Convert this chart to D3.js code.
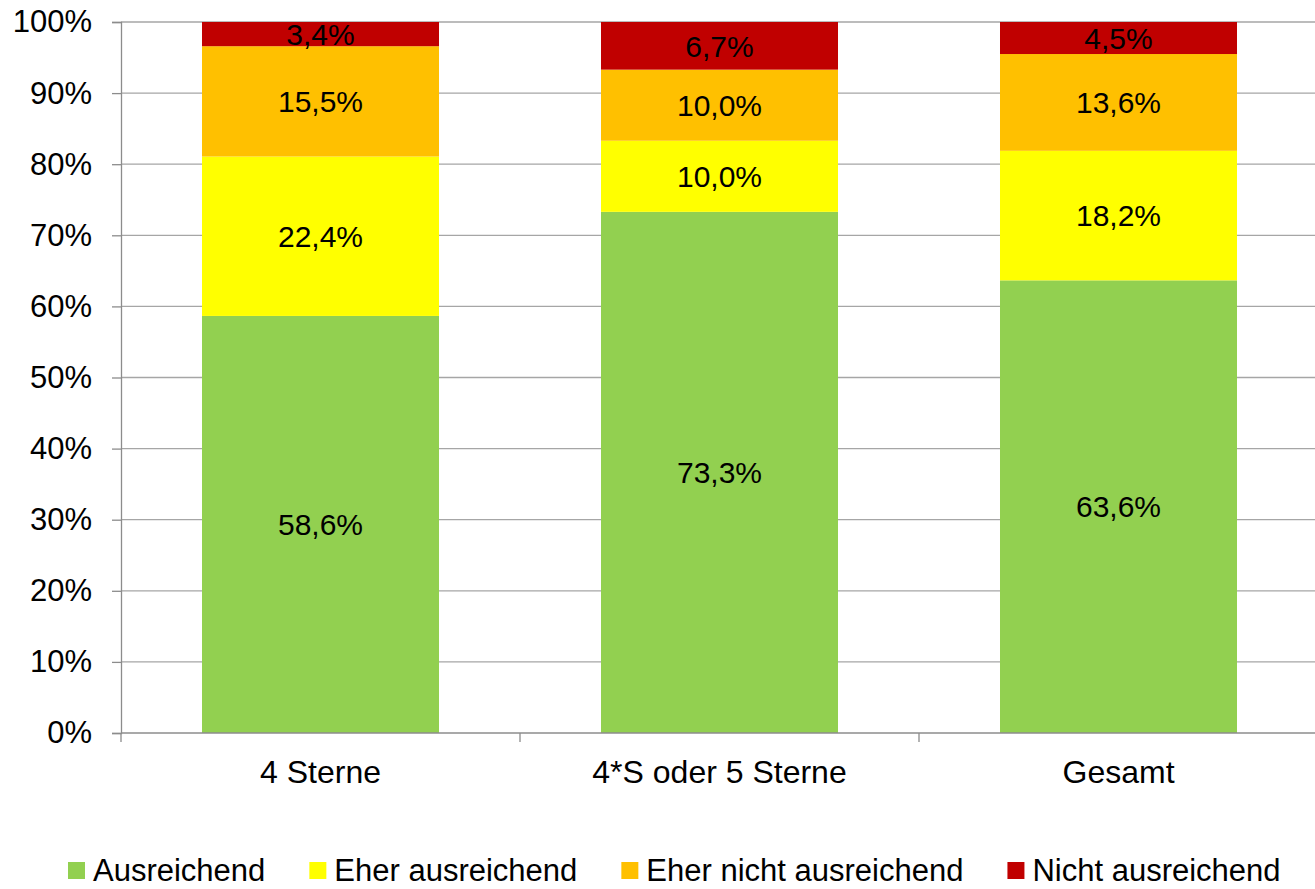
<!DOCTYPE html>
<html>
<head>
<meta charset="utf-8">
<script src="https://cdn.jsdelivr.net/npm/d3@7"></script>
<style>
  html, body { margin: 0; padding: 0; background: #fff; }
  svg { display: block; font-family: "Liberation Sans", Arial, sans-serif; }
</style>
</head>
<body>
<svg id="chart" width="1315" height="889"></svg>
<script>
const categories = ["4 Sterne", "4*S oder 5 Sterne", "Gesamt"];
const seriesNames = ["Ausreichend", "Eher ausreichend", "Eher nicht ausreichend", "Nicht ausreichend"];
const ausreichend = [58.6, 73.3, 63.6];
const eherAusreichend = [22.4, 10.0, 18.2];
const eherNichtAusreichend = [15.5, 10.0, 13.6];
const nichtAusreichend = [3.4, 6.7, 4.5];
const yTicks = [0, 10, 20, 30, 40, 50, 60, 70, 80, 90, 100];
const colors = ["#92D050", "#FFFF00", "#FFC000", "#C00000"];

(function () {
const seriesValues = [ausreichend, eherAusreichend, eherNichtAusreichend, nichtAusreichend];
const table = categories.map((c, i) => {
  const row = { cat: c };
  seriesNames.forEach((s, k) => row[s] = seriesValues[k][i]);
  return row;
});
// 100% stacked: normalise each category
const normTable = table.map(r => {
  const tot = d3.sum(seriesNames, s => r[s]);
  const o = { cat: r.cat };
  seriesNames.forEach(s => o[s] = r[s] / tot * 100);
  o._raw = r;
  return o;
});

const svg = d3.select("#chart");
const mLeft = 121, mRight = 1318, mTop = 22, mBottom = 733;
const fsLabel = 30, fsY = 31, fsX = 32, fsLegend = 31;

const x = d3.scaleBand().domain(categories).range([mLeft, mRight]).paddingInner(0.406).paddingOuter(0.203);
const y = d3.scaleLinear().domain([0, 100]).range([mBottom, mTop]);

// gridlines
svg.append("g").selectAll("line").data(yTicks.filter(t => t > 0)).join("line")
  .attr("x1", mLeft).attr("x2", 1315)
  .attr("y1", d => y(d)).attr("y2", d => y(d))
  .attr("stroke", "#a6a6a6").attr("stroke-width", 1.3);

// bars
const stack = d3.stack().keys(seriesNames)(normTable);
const layers = svg.append("g").selectAll("g").data(stack).join("g")
  .attr("fill", (d, i) => colors[i]);
layers.selectAll("rect").data(d => d).join("rect")
  .attr("x", d => x(d.data.cat))
  .attr("width", x.bandwidth())
  .attr("y", d => y(d[1]))
  .attr("height", d => y(d[0]) - y(d[1]));

// labels
stack.forEach((layer, k) => {
  svg.append("g").selectAll("text").data(layer).join("text")
    .attr("x", d => x(d.data.cat) + x.bandwidth() / 2)
    .attr("y", d => (y(d[0]) + y(d[1])) / 2)
    .attr("dy", "0.36em")
    .attr("text-anchor", "middle")
    .attr("font-size", fsLabel)
    .attr("fill", "#000")
    .text(d => d.data._raw[seriesNames[k]].toFixed(1).replace(".", ",") + "%");
});

// y axis
const yAxis = d3.axisLeft(y).tickValues(yTicks).tickSize(9).tickPadding(20)
  .tickFormat(d => d + "%");
const gy = svg.append("g").attr("transform", `translate(${mLeft},0)`).call(yAxis);
gy.select(".domain").attr("stroke", "#8c8c8c").attr("stroke-width", 1.3);
gy.selectAll(".tick line").attr("stroke", "#8c8c8c").attr("stroke-width", 1.3);
gy.selectAll(".tick text").attr("font-size", fsY).attr("fill", "#000")
  .attr("font-family", "Liberation Sans, Arial, sans-serif");

// x axis
const xAxis = d3.axisBottom(x).tickSize(0).tickPadding(27);
const gx = svg.append("g").attr("transform", `translate(0,${mBottom})`).call(xAxis);
gx.select(".domain").attr("stroke", "#8c8c8c").attr("stroke-width", 1.3)
  .attr("d", `M${mLeft},0H${mRight}`);
gx.selectAll(".tick text").attr("font-size", fsX).attr("fill", "#000")
  .attr("font-family", "Liberation Sans, Arial, sans-serif");
// category boundary ticks
const bounds = categories.map(c => x(c) - x.step() * x.paddingInner() / 2).concat([mRight]);
gx.append("g").selectAll("line").data(bounds).join("line")
  .attr("x1", d => d).attr("x2", d => d).attr("y1", 0).attr("y2", 9)
  .attr("stroke", "#8c8c8c").attr("stroke-width", 1.3);

// legend
const legend = svg.append("g");
let lx = 68;
const ly = 870;
seriesNames.forEach((s, i) => {
  legend.append("rect").attr("x", lx).attr("y", ly - 8).attr("width", 17).attr("height", 17).attr("fill", colors[i]);
  const t = legend.append("text").attr("x", lx + 25).attr("y", ly).attr("dy", "0.36em")
    .attr("font-size", fsLegend).attr("fill", "#000").text(s);
  lx += 25 + t.node().getComputedTextLength() + 44;
});
})();
</script>
</body>
</html>
